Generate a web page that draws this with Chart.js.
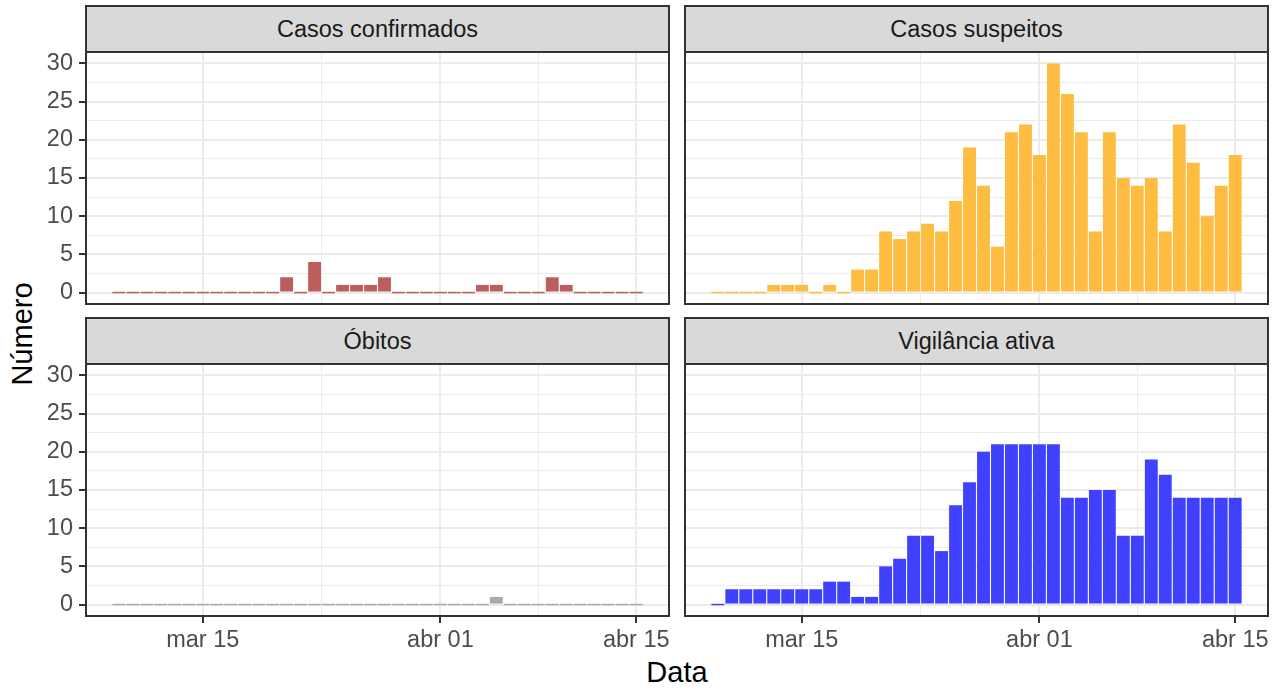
<!DOCTYPE html>
<html><head><meta charset="utf-8">
<script src="https://cdn.jsdelivr.net/npm/chart.js@4.4.1/dist/chart.umd.min.js"></script>
<style>
html,body{margin:0;padding:0;background:#fff;width:1282px;height:691px;overflow:hidden;position:relative;font-family:"Liberation Sans",Arial,sans-serif}
.strip{position:absolute;box-sizing:border-box;background:#D9D9D9;border:2px solid #333333;display:flex;align-items:center;justify-content:center;font-size:23.5px;color:#1A1A1A;z-index:2}
.cw{position:absolute}
.ttl{position:absolute;font-size:29px;color:#000;white-space:nowrap;transform:translate(-50%,-50%)}
</style></head><body>
<div class="ttl" style="left:677px;top:672px">Data</div>
<div class="ttl" style="left:22px;top:334px;transform:translate(-50%,-50%) rotate(-90deg)">Número</div>
<script>
const dates = ['2020-03-09','2020-03-10','2020-03-11','2020-03-12','2020-03-13','2020-03-14','2020-03-15','2020-03-16','2020-03-17','2020-03-18','2020-03-19','2020-03-20','2020-03-21','2020-03-22','2020-03-23','2020-03-24','2020-03-25','2020-03-26','2020-03-27','2020-03-28','2020-03-29','2020-03-30','2020-03-31','2020-04-01','2020-04-02','2020-04-03','2020-04-04','2020-04-05','2020-04-06','2020-04-07','2020-04-08','2020-04-09','2020-04-10','2020-04-11','2020-04-12','2020-04-13','2020-04-14','2020-04-15'];
const confirmados = [0,0,0,0,0,0,0,0,0,0,0,0,2,0,4,0,1,1,1,2,0,0,0,0,0,0,1,1,0,0,0,2,1,0,0,0,0,0];
const suspeitos   = [0,0,0,0,1,1,1,0,1,0,3,3,8,7,8,9,8,12,19,14,6,21,22,18,30,26,21,8,21,15,14,15,8,22,17,10,14,18];
const obitos      = [0,0,0,0,0,0,0,0,0,0,0,0,0,0,0,0,0,0,0,0,0,0,0,0,0,0,0,1,0,0,0,0,0,0,0,0,0,0];
const vigilancia  = [0,2,2,2,2,2,2,2,3,3,1,1,5,6,9,9,7,13,16,20,21,21,21,21,21,14,14,15,15,9,9,19,17,14,14,14,14,14];
const xTickDates  = ['2020-03-15','2020-04-01','2020-04-15'];
const xTickLabels = ['mar 15','abr 01','abr 15'];
const yTickValues = [0,5,10,15,20,25,30];
const panelTitles = ['Casos confirmados','Casos suspeitos','Óbitos','Vigilância ativa'];

const FONT = '"Liberation Sans", Arial, sans-serif';
const DAY = 86400000, ORIGIN = Date.UTC(2020,2,1);
function dayNum(s){ const [y,m,d]=s.split('-').map(Number); return (Date.UTC(y,m-1,d)-ORIGIN)/DAY + 1; }
const xs = dates.map(dayNum);
const lo = Math.min(...xs) - 0.45, hi = Math.max(...xs) + 0.45;
const ex = (hi - lo) * 0.05;
const xMin = lo - ex, xMax = hi + ex;
const xMajor = xTickDates.map(dayNum);
const xMinor = [];
for (let i = 0; i < xMajor.length - 1; i++) xMinor.push((xMajor[i] + xMajor[i+1]) / 2);
const xAll = [...xMajor, ...xMinor].sort((a,b)=>a-b);
const xLabelMap = {}; xMajor.forEach((v,i)=>{ xLabelMap[v] = xTickLabels[i]; });
const yMinor = []; for (let i = 0; i < yTickValues.length - 1; i++) yMinor.push((yTickValues[i]+yTickValues[i+1])/2);
const yAll = [...yTickValues, ...yMinor].sort((a,b)=>a-b);
const yMin = -1.5, yMax = 31.5;

const panels = [
  {title:panelTitles[0], data:confirmados, color:'#BC5E5B', left:86,  top:52,  w:583, h:252, yLab:true,  xLab:false},
  {title:panelTitles[1], data:suspeitos,   color:'#FEBC40', left:685, top:52,  w:583, h:252, yLab:false, xLab:false},
  {title:panelTitles[2], data:obitos,      color:'#AAAAAA', left:86,  top:364, w:583, h:252, yLab:true,  xLab:true},
  {title:panelTitles[3], data:vigilancia,  color:'#4040FF', left:685, top:364, w:583, h:252, yLab:false, xLab:true}
];

const borderPlugin = {id:'pborder', afterDraw(chart){
  const a = chart.chartArea, c = chart.ctx;
  c.save(); c.strokeStyle = '#333333'; c.lineWidth = 2;
  c.strokeRect(a.left, a.top, a.right - a.left, a.bottom - a.top); c.restore();
}};

function isMajor(list, ctx){ return ctx.tick && list.includes(ctx.tick.value); }

panels.forEach(p => {
  const axisW = p.yLab ? 86 : 0, padL = p.yLab ? 86 : 6;
  const axisH = p.xLab ? 54 : 0, padB = p.xLab ? 84 : 30;
  const padR = 30, padT = 30;
  const W = p.w + padL + padR, H = p.h + padT + padB;
  const div = document.createElement('div'); div.className = 'cw';
  div.style.left = (p.left - padL) + 'px'; div.style.top = (p.top - padT) + 'px';
  div.style.width = W + 'px'; div.style.height = H + 'px';
  const cv = document.createElement('canvas'); cv.width = W; cv.height = H;
  cv.style.width = W + 'px'; cv.style.height = H + 'px';
  div.appendChild(cv); document.body.appendChild(div);

  const strip = document.createElement('div'); strip.className = 'strip';
  strip.style.left = (p.left - 1) + 'px'; strip.style.top = (p.top - 47) + 'px';
  strip.style.width = (p.w + 2) + 'px'; strip.style.height = '48px';
  strip.textContent = p.title; document.body.appendChild(strip);

  new Chart(cv, {
    type: 'bar',
    data: { datasets: [{
      data: xs.map((x,i)=>({x:x, y:p.data[i]})),
      backgroundColor: p.color, borderWidth: 0,
      barPercentage: 0.92, categoryPercentage: 1, minBarLength: 1.5
    }]},
    plugins: [borderPlugin],
    options: {
      responsive: false, animation: false, devicePixelRatio: 1,
      layout: { padding: { left: padL - axisW, right: padR, top: padT, bottom: padB - axisH } },
      plugins: { legend: {display:false}, tooltip: {enabled:false} },
      scales: {
        x: {
          type: 'linear', min: xMin, max: xMax, offset: false,
          afterBuildTicks: s => { s.ticks = xAll.map(v=>({value:v})); },
          afterFit: s => { s.height = axisH; },
          border: {display:false},
          grid: {
            offset: false,
            color: '#EBEBEB',
            lineWidth: ctx => isMajor(xMajor, ctx) ? 2 : 1,
            drawTicks: p.xLab, tickLength: 7, tickWidth: 2,
            tickColor: ctx => isMajor(xMajor, ctx) ? '#333333' : 'rgba(0,0,0,0)'
          },
          ticks: {
            display: p.xLab, autoSkip: false, maxRotation: 0, minRotation: 0, padding: 3,
            color: '#4D4D4D', font: {size: 23.5, family: FONT},
            callback: v => xLabelMap[v] || ''
          }
        },
        y: {
          type: 'linear', min: yMin, max: yMax,
          afterBuildTicks: s => { s.ticks = yAll.map(v=>({value:v})); },
          afterFit: s => { s.width = axisW; },
          border: {display:false},
          grid: {
            offset: false,
            color: '#EBEBEB',
            lineWidth: ctx => isMajor(yTickValues, ctx) ? 2 : 1,
            drawTicks: p.yLab, tickLength: 7, tickWidth: 2,
            tickColor: ctx => isMajor(yTickValues, ctx) ? '#333333' : 'rgba(0,0,0,0)'
          },
          ticks: {
            display: p.yLab, autoSkip: false, padding: 6,
            color: '#4D4D4D', font: {size: 23.5, family: FONT},
            callback: v => yTickValues.includes(v) ? String(v) : ''
          }
        }
      }
    }
  });
});
</script>
</body></html>
